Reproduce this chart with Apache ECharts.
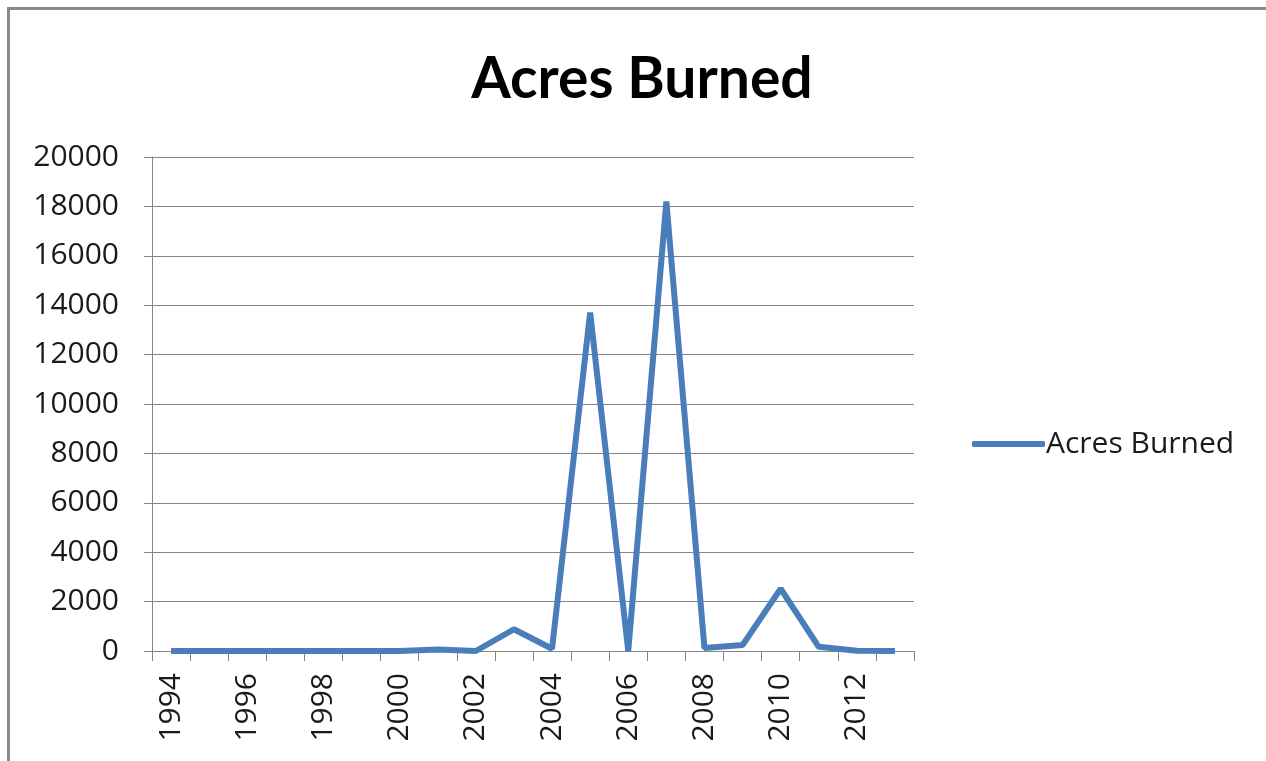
<!DOCTYPE html>
<html>
<head>
<meta charset="utf-8">
<script src="https://cdn.jsdelivr.net/npm/echarts@6/dist/echarts.min.js"></script>
<style>
  html, body { margin: 0; padding: 0; background: #fff; }
  #chart { width: 1266px; height: 761px; }
  .frame {
    position: absolute; left: 7px; top: 7px; right: 0; bottom: 0;
    border-top: 3px solid #8a8a8a; border-left: 3px solid #8a8a8a;
    pointer-events: none;
  }
</style>
</head>
<body>
<div id="chart"></div>
<div class="frame"></div>
<script>
// years on the x axis
const years = ['1994', '1995', '1996', '1997', '1998', '1999', '2000', '2001', '2002', '2003',
  '2004', '2005', '2006', '2007', '2008', '2009', '2010', '2011', '2012', '2013']
// acres burned per year
const acres = [0, 0, 0, 0, 0, 0, 0, 60, 0, 880,
  90, 13700, 0, 18200, 120, 240, 2520, 170, 10, 0]

const seriesName = 'Acres Burned'
const lineColor = '#4a7ebb'
const fontFamily = '"Open Sans", Calibri, sans-serif'

const chart = echarts.init(document.getElementById('chart'))
chart.setOption({
  backgroundColor: '#fff',
  animation: false,
  title: {
    text: 'Acres Burned',
    left: 637,
    textAlign: 'center',
    top: 46,
    textStyle: {
      fontFamily: 'Lato, sans-serif',
      fontWeight: 'bold',
      fontSize: 57,
      color: '#000'
    }
  },
  legend: {
    left: 967,
    top: 424,
    icon: 'roundRect',
    itemWidth: 73,
    itemHeight: 6,
    itemGap: 4,
    textStyle: {
      fontFamily: fontFamily,
      fontSize: 30,
      color: '#1a1a1a',
      padding: [0, 0, 0, -4]
    },
    data: [seriesName]
  },
  grid: {
    left: 152,
    right: 352,
    top: 157,
    bottom: 110
  },
  xAxis: {
    type: 'category',
    data: years,
    boundaryGap: true,
    axisLine: { lineStyle: { color: '#868686', width: 1 } },
    axisTick: { show: true, interval: 0, length: 10, lineStyle: { color: '#868686' } },
    axisLabel: {
      interval: 1,
      rotate: 90,
      margin: 22,
      fontFamily: fontFamily,
      fontSize: 30,
      color: '#1a1a1a'
    },
    splitLine: { show: false }
  },
  yAxis: {
    type: 'value',
    min: 0,
    max: 20000,
    interval: 2000,
    axisLine: { show: true, lineStyle: { color: '#868686', width: 1 } },
    axisTick: { show: true, length: 8, lineStyle: { color: '#868686' } },
    axisLabel: {
      margin: 33,
      fontFamily: fontFamily,
      fontSize: 30,
      color: '#1a1a1a',
      formatter: v => String(v)
    },
    splitLine: { lineStyle: { color: '#868686', width: 1 } }
  },
  series: [{
    name: seriesName,
    type: 'line',
    data: acres,
    symbol: 'none',
    lineStyle: { color: lineColor, width: 6 },
    itemStyle: { color: lineColor }
  }]
})
</script>
</body>
</html>
